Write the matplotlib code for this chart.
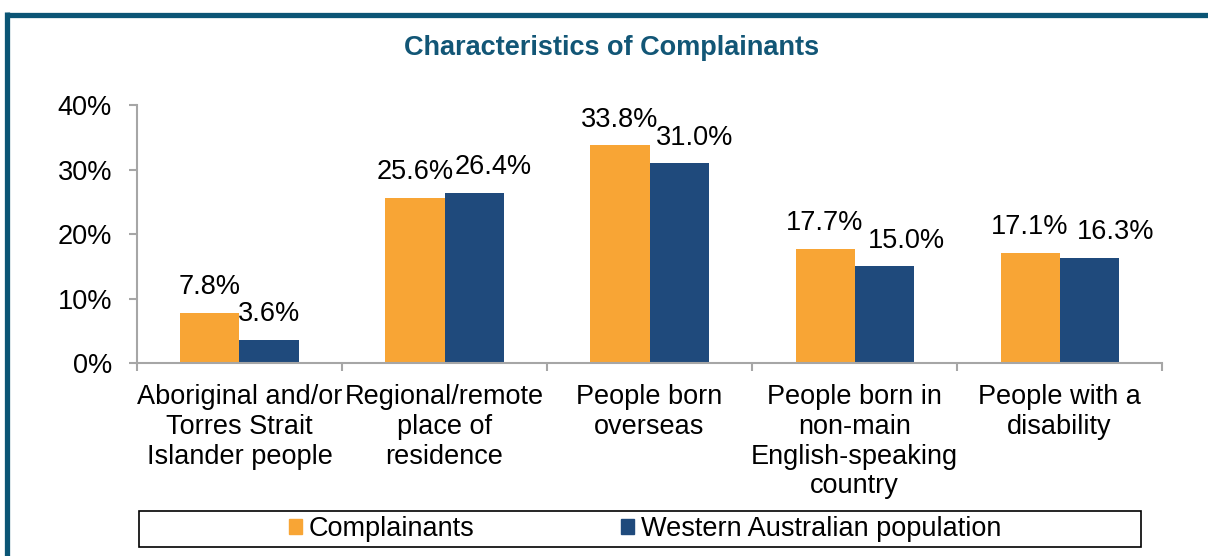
import numpy as np
import matplotlib
matplotlib.use("Agg")
import matplotlib.pyplot as plt
from matplotlib.lines import Line2D
from matplotlib.patches import Rectangle

plt.rcParams['font.family'] = ['Liberation Sans', 'DejaVu Sans']

categories = ["Aboriginal and/or\nTorres Strait\nIslander people",
              "Regional/remote\nplace of\nresidence",
              "People born\noverseas",
              "People born in\nnon-main\nEnglish-speaking\ncountry",
              "People with a\ndisability"]
complainants = [7.8, 25.6, 33.8, 17.7, 17.1]
wa_population = [3.6, 26.4, 31.0, 15.0, 16.3]
series_names = ["Complainants", "Western Australian population"]
yticks = [0, 10, 20, 30, 40]

# horizontal nudges (points) of the data labels, as in the original layout
nudge_complainants = [0, 0, 0, 0, 0]
nudge_wa = [0, 14, 11, 16, 19]

orange = "#F8A535"
navy = "#1F4A7C"
teal = "#0B5575"
grey = "#A6A6A6"
fs = 19.5

fig = plt.figure(figsize=(12.08, 5.56), dpi=100)
ax = fig.add_axes([0.1134, 0.347, 0.8486, 0.464])

x = np.arange(len(categories))
w = 0.288
b1 = ax.bar(x - w/2, complainants, w, color=orange, label=series_names[0])
b2 = ax.bar(x + w/2, wa_population, w, color=navy, label=series_names[1])

for bars, vals, nudge in ((b1, complainants, nudge_complainants),
                          (b2, wa_population, nudge_wa)):
    for rect, v, dx in zip(bars, vals, nudge):
        ax.annotate(f"{v:.1f}%", (rect.get_x() + rect.get_width()/2, v),
                    xytext=(dx, 9), textcoords="offset points",
                    ha="center", va="bottom", fontsize=fs, color="black")

ax.set_xlim(-0.5, len(categories) - 0.5)
ax.set_ylim(0, 40)
ax.set_yticks(yticks)
ax.set_yticklabels([f"{t}%" for t in yticks], fontsize=fs)
ax.set_xticks(np.arange(len(categories) + 1) - 0.5)
ax.set_xticklabels([])
ax.set_xticks(x, minor=True)
ax.set_xticklabels(categories, minor=True, fontsize=fs, va="top",
                   linespacing=1.19)
ax.tick_params(axis="x", which="minor", length=0, pad=15)
ax.tick_params(axis="x", which="major", length=5.5, color=grey, width=1.5)
ax.tick_params(axis="y", length=6, color=grey, width=1.5, pad=12)
for s in ("top", "right"):
    ax.spines[s].set_visible(False)
for s in ("left", "bottom"):
    ax.spines[s].set_color(grey)
    ax.spines[s].set_linewidth(1.5)

fig.text(0.5065, 0.913, "Characteristics of Complainants", ha="center",
         va="center", fontsize=fs, fontweight="bold", color="#125676")

# outer border (top and left edges)
fig.add_artist(Line2D([7.5/1208, 1], [1 - 14.5/556, 1 - 14.5/556],
                      transform=fig.transFigure, color=teal, lw=3.8,
                      solid_capstyle="butt"))
fig.add_artist(Line2D([7.5/1208, 7.5/1208], [0, 1 - 12/556],
                      transform=fig.transFigure, color=teal, lw=3.8,
                      solid_capstyle="butt"))

# legend box
fig.add_artist(Rectangle((139/1208, 1 - 547/556), (1141 - 139)/1208, 36/556,
                         transform=fig.transFigure, fill=False,
                         edgecolor="black", lw=1.2))
handles = [Rectangle((0, 0), 1, 1, color=orange),
           Rectangle((0, 0), 1, 1, color=navy)]
fig.legend(handles, series_names, loc="center", ncol=2, frameon=False,
           bbox_to_anchor=(645/1208, 1 - 529/556), fontsize=fs,
           handlelength=0.5, handleheight=0.5, handletextpad=0.25,
           columnspacing=5.4, borderpad=0, borderaxespad=0)

fig.savefig("out.png", dpi=100)
